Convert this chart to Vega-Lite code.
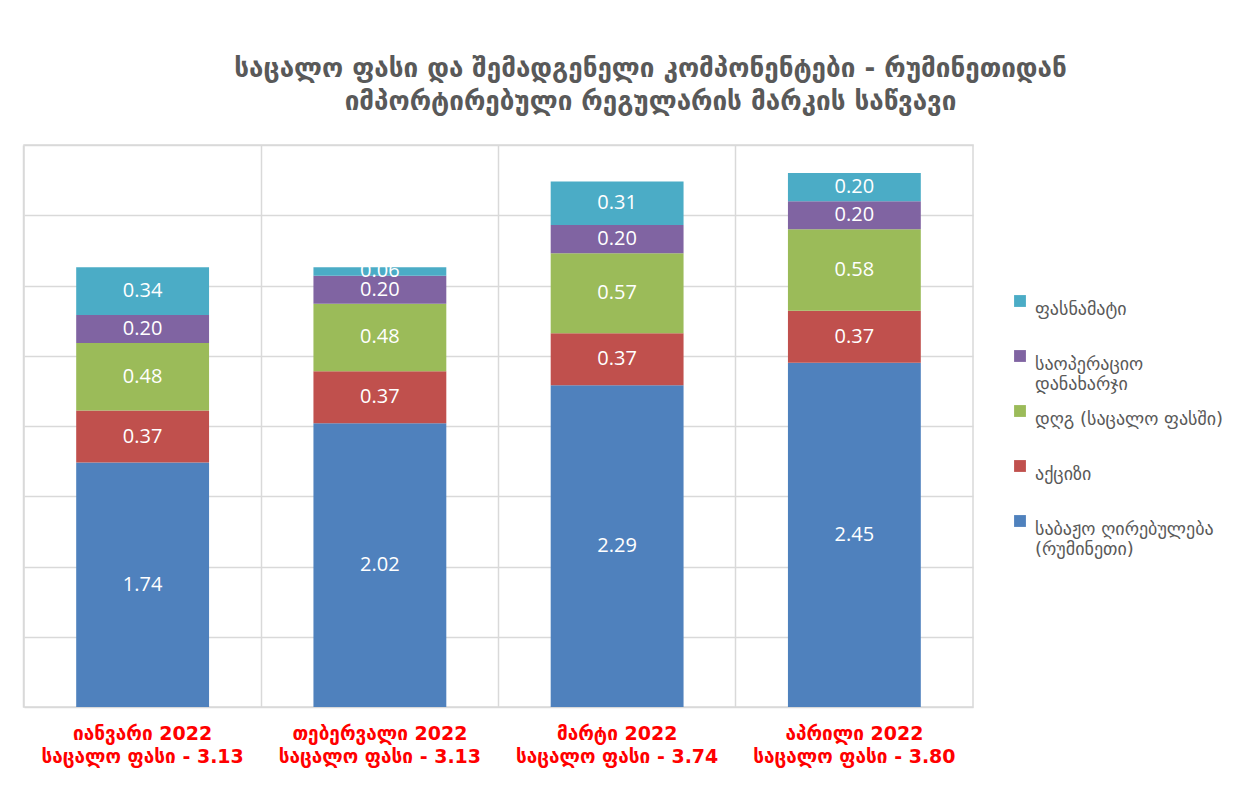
{
  "$schema": "https://vega.github.io/schema/vega-lite/v6.json",
  "autosize": "none",
  "width": 949,
  "height": 562,
  "padding": {"left": 24, "top": 145, "right": 273, "bottom": 78},
  "background": "white",
  "config": {
    "view": {"stroke": "#d9d9d9", "strokeWidth": 1.5},
    "font": "DejaVu Sans"
  },
  "title": {
    "text": ["საცალო ფასი და შემადგენელი კომპონენტები - რუმინეთიდან", "იმპორტირებული რეგულარის მარკის საწვავი"],
    "fontSize": 26,
    "fontWeight": "bold",
    "color": "#595959",
    "font": "DejaVu Sans",
    "lineHeight": 33,
    "anchor": "middle",
    "offset": 30,
    "dx": 152
  },
  "transform": [
    {"calculate": "indexof(['საბაჟო ღირებულება (რუმინეთი)', 'აქციზი', 'დღგ (საცალო ფასში)', 'საოპერაციო დანახარჯი', 'ფასნამატი'], datum.series)", "as": "stack_rank"}
  ],
  "data": {
    "values": [
      {"month": "იანვარი 2022|საცალო ფასი - 3.13", "series": "საბაჟო ღირებულება (რუმინეთი)", "value": 1.74},
      {"month": "იანვარი 2022|საცალო ფასი - 3.13", "series": "აქციზი", "value": 0.37},
      {"month": "იანვარი 2022|საცალო ფასი - 3.13", "series": "დღგ (საცალო ფასში)", "value": 0.48},
      {"month": "იანვარი 2022|საცალო ფასი - 3.13", "series": "საოპერაციო დანახარჯი", "value": 0.20},
      {"month": "იანვარი 2022|საცალო ფასი - 3.13", "series": "ფასნამატი", "value": 0.34},
      {"month": "თებერვალი 2022|საცალო ფასი - 3.13", "series": "საბაჟო ღირებულება (რუმინეთი)", "value": 2.02},
      {"month": "თებერვალი 2022|საცალო ფასი - 3.13", "series": "აქციზი", "value": 0.37},
      {"month": "თებერვალი 2022|საცალო ფასი - 3.13", "series": "დღგ (საცალო ფასში)", "value": 0.48},
      {"month": "თებერვალი 2022|საცალო ფასი - 3.13", "series": "საოპერაციო დანახარჯი", "value": 0.20},
      {"month": "თებერვალი 2022|საცალო ფასი - 3.13", "series": "ფასნამატი", "value": 0.06},
      {"month": "მარტი 2022|საცალო ფასი - 3.74", "series": "საბაჟო ღირებულება (რუმინეთი)", "value": 2.29},
      {"month": "მარტი 2022|საცალო ფასი - 3.74", "series": "აქციზი", "value": 0.37},
      {"month": "მარტი 2022|საცალო ფასი - 3.74", "series": "დღგ (საცალო ფასში)", "value": 0.57},
      {"month": "მარტი 2022|საცალო ფასი - 3.74", "series": "საოპერაციო დანახარჯი", "value": 0.20},
      {"month": "მარტი 2022|საცალო ფასი - 3.74", "series": "ფასნამატი", "value": 0.31},
      {"month": "აპრილი 2022|საცალო ფასი - 3.80", "series": "საბაჟო ღირებულება (რუმინეთი)", "value": 2.45},
      {"month": "აპრილი 2022|საცალო ფასი - 3.80", "series": "აქციზი", "value": 0.37},
      {"month": "აპრილი 2022|საცალო ფასი - 3.80", "series": "დღგ (საცალო ფასში)", "value": 0.58},
      {"month": "აპრილი 2022|საცალო ფასი - 3.80", "series": "საოპერაციო დანახარჯი", "value": 0.20},
      {"month": "აპრილი 2022|საცალო ფასი - 3.80", "series": "ფასნამატი", "value": 0.20}
    ]
  },
  "layer": [
    {
      "mark": {"type": "bar"},
      "encoding": {
        "x": {
          "field": "month", "type": "nominal", "sort": null,
          "scale": {"paddingInner": 0.44, "paddingOuter": 0.22},
          "axis": {"title": null, "labels": false, "ticks": false, "domain": false, "grid": true, "bandPosition": -0.3929, "gridColor": "#d9d9d9", "gridWidth": 1.5, "orient": "bottom"}
        },
        "y": {
          "field": "value", "type": "quantitative", "stack": "zero",
          "scale": {"domain": [0, 4], "nice": false},
          "axis": {"title": null, "labels": false, "ticks": false, "domain": false, "values": [0, 0.5, 1, 1.5, 2, 2.5, 3, 3.5, 4], "gridColor": "#d9d9d9", "gridWidth": 1.5}
        },
        "order": {"field": "stack_rank", "type": "quantitative", "sort": "ascending"},
        "color": {
          "field": "series", "type": "nominal",
          "scale": {
            "domain": ["საბაჟო ღირებულება (რუმინეთი)", "აქციზი", "დღგ (საცალო ფასში)", "საოპერაციო დანახარჯი", "ფასნამატი"],
            "range": ["#4F81BD", "#C0504D", "#9BBB59", "#8064A2", "#4BACC6"]
          },
          "legend": {
            "title": null,
            "orient": "none",
            "legendX": 987,
            "legendY": 147,
            "columns": 1,
            "gridAlign": "all",
            "values": ["ფასნამატი", "საოპერაციო დანახარჯი", "დღგ (საცალო ფასში)", "აქციზი", "საბაჟო ღირებულება (რუმინეთი)"],
            "symbolType": "square",
            "symbolSize": 140,
            "symbolStrokeWidth": 0,
            "labelFont": "DejaVu Sans",
            "labelFontSize": 18,
            "labelColor": "#595959",
            "labelOffset": 6,
            "labelBaseline": "top",
            "labelLineHeight": 27,
            "labelLimit": 300,
            "rowPadding": 8,
            "labelExpr": "datum.label == 'საოპერაციო დანახარჯი' ? ['საოპერაციო', 'დანახარჯი'] : datum.label == 'საბაჟო ღირებულება (რუმინეთი)' ? ['საბაჟო ღირებულება', '(რუმინეთი)'] : datum.label"
          }
        }
      }
    },
    {
      "mark": {"type": "text", "font": "Open Sans", "fontSize": 20, "baseline": "middle", "color": "white"},
      "encoding": {
        "x": {
          "field": "month", "type": "nominal", "sort": null,
          "axis": {
            "title": null, "ticks": false, "domain": false, "grid": false, "orient": "bottom",
            "labelExpr": "split(datum.value, '|')",
            "labelFont": "DejaVu Sans", "labelFontSize": 19, "labelFontWeight": "bold",
            "labelColor": "#FF0000", "labelAngle": 0, "labelPadding": 17,
            "labelLineHeight": 23, "labelLimit": 300
          }
        },
        "y": {
          "field": "value", "type": "quantitative", "stack": "zero", "bandPosition": 0.5,
          "axis": {"title": null, "labels": false, "ticks": false, "domain": false, "values": [0, 0.5, 1, 1.5, 2, 2.5, 3, 3.5, 4], "gridColor": "#d9d9d9", "gridWidth": 1.5}
        },
        "order": {"field": "stack_rank", "type": "quantitative", "sort": "ascending"},
        "detail": {"field": "series", "type": "nominal"},
        "text": {"field": "value", "type": "quantitative", "format": ".2f"}
      }
    }
  ],
  "resolve": {"axis": {"x": "independent"}}
}
